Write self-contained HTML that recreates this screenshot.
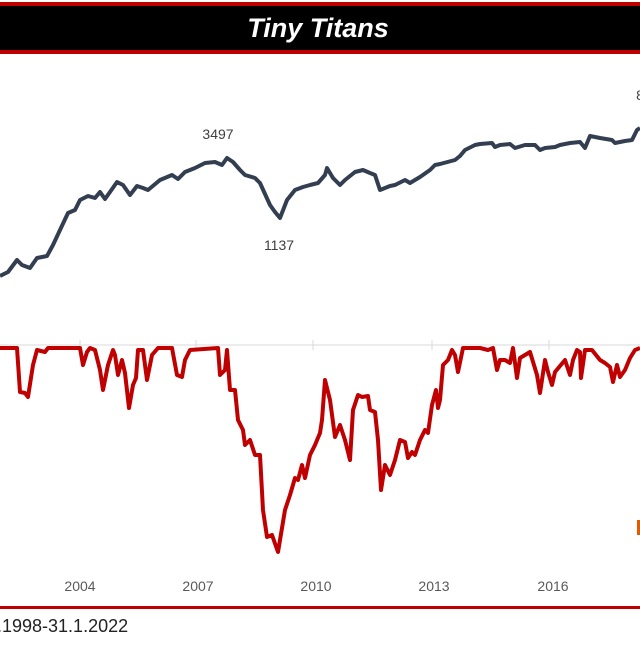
<!DOCTYPE html>
<html><head><style>
body{margin:0;width:640px;height:640px;overflow:hidden;background:#fff;font-family:"Liberation Sans",sans-serif}
</style></head><body>
<svg width="640" height="640" xmlns="http://www.w3.org/2000/svg">
<rect x="0" y="2" width="640" height="52" fill="#c00000"/>
<rect x="0" y="6" width="640" height="44" fill="#000"/>
<text x="318" y="37" text-anchor="middle" fill="#fff" font-size="27" font-weight="bold" font-style="italic" font-family="Liberation Sans, sans-serif">Tiny Titans</text>
<line x1="0" y1="345" x2="640" y2="345" stroke="#d9d9d9" stroke-width="1"/>
<g stroke="#d9d9d9" stroke-width="1">
<line x1="80" y1="340" x2="80" y2="350"/><line x1="196" y1="340" x2="196" y2="350"/><line x1="313" y1="340" x2="313" y2="350"/><line x1="432" y1="340" x2="432" y2="350"/><line x1="549" y1="340" x2="549" y2="350"/>
</g>
<polyline fill="none" stroke="#333f50" stroke-width="4" stroke-linejoin="round" points="0,276 8,272 17,260 22,265 30,268 37,258 47,256 53,245 60,230 68,213 75,210 80,200 88,196 95,198 100,192 105,199 110,192 117,182 123,185 130,195 137,186 143,188 148,190 160,180 172,175 178,179 185,172 195,168 205,163 215,162 222,165 227,158 233,162 240,170 245,175 255,178 260,183 270,205 275,212 280,218 287,200 295,190 303,187 310,185 318,183 325,175 327,168 333,178 340,185 345,180 355,172 363,170 370,173 375,175 380,190 385,188 390,186 395,185 405,180 410,183 420,177 430,170 435,165 440,164 455,160 460,156 465,150 475,145 480,144 492,143 495,147 500,145 510,144 515,148 525,145 535,145 540,150 545,148 555,147 560,145 570,143 580,142 585,148 590,136 600,138 612,140 615,143 625,141 632,140 637,130 640,128"/>
<polyline fill="none" stroke="#c00000" stroke-width="4" stroke-linejoin="round" points="0,348 17,348 20,392 25,393 28,397 33,365 37,350 45,352 48,348 80,348 83,365 87,352 90,348 95,350 100,370 103,390 108,365 113,350 115,355 118,375 122,360 125,373 129,408 133,385 136,378 138,350 143,350 147,380 152,355 158,348 172,348 177,375 182,377 185,360 190,350 218,348 220,375 225,370 227,350 230,390 235,390 238,420 243,430 245,445 250,440 255,455 260,455 263,510 267,537 272,535 278,552 285,510 290,495 295,478 298,480 302,465 305,478 310,455 315,445 320,433 322,420 325,380 330,400 335,437 340,425 345,440 350,460 353,410 358,395 362,397 368,396 370,410 375,412 378,440 381,490 385,465 390,475 395,460 400,440 405,442 408,458 412,452 415,455 420,440 425,430 428,433 432,405 436,390 438,408 440,400 443,365 448,360 452,350 455,355 458,372 463,348 480,348 488,350 493,348 497,370 500,360 505,360 510,363 513,348 517,378 520,358 525,355 530,352 537,375 540,393 545,360 548,372 552,385 555,372 560,366 565,360 570,375 573,360 577,350 580,352 581,378 585,350 592,350 600,360 605,363 610,367 613,382 617,365 620,377 625,370 630,358 635,350 640,348"/>
<rect x="637" y="520" width="3" height="15" fill="#e05a00"/>
<g fill="#404040" font-size="14" font-family="Liberation Sans, sans-serif" text-anchor="middle">
<text x="218" y="139">3497</text>
<text x="279" y="250">1137</text>
<text x="640" y="100">8</text>
</g>
<g fill="#595959" font-size="14" font-family="Liberation Sans, sans-serif" text-anchor="middle">
<text x="80" y="591">2004</text><text x="198" y="591">2007</text><text x="316" y="591">2010</text><text x="434" y="591">2013</text><text x="553" y="591">2016</text>
</g>
<rect x="0" y="606" width="640" height="3" fill="#c00000"/>
<text x="-3" y="632" fill="#222" font-size="18" font-family="Liberation Sans, sans-serif">.1998-31.1.2022</text>
</svg>
</body></html>
